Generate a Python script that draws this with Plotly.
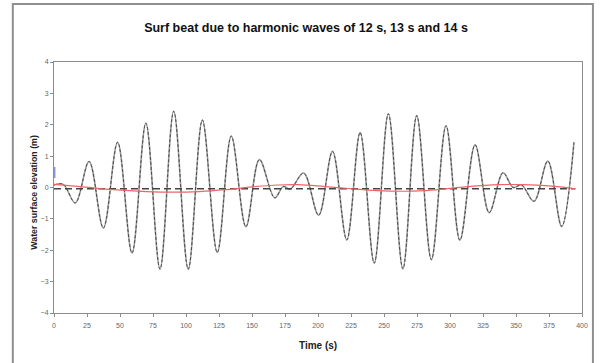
import plotly.graph_objects as go

# Extrema of the surface elevation (time s, elevation m)
wave_t = [0, 7, 16.1, 26.6, 37.4, 48.2, 59.1, 69.6, 80.3, 90.7, 101.7, 112.4, 123.7,
          134.3, 145.4, 155.6, 167.2, 173.7, 179.0, 189.1, 200.5, 211.0, 221.8, 231.9,
          242.6, 253.3, 264.3, 274.8, 285.9, 297.0, 307.5, 319.0, 329.7, 340.2, 347.8,
          354.2, 363.6, 374.1, 384.6, 393.9]
wave_y = [0.08, 0.1, -0.49, 0.83, -1.29, 1.44, -2.09, 2.05, -2.6, 2.43, -2.6, 2.15, -2.07,
          1.64, -1.25, 0.89, -0.33, 0.03, -0.05, 0.46, -0.88, 1.15, -1.67, 1.75,
          -2.41, 2.35, -2.59, 2.29, -2.3, 1.97, -1.68, 1.36, -0.8, 0.47, 0.0,
          0.08, -0.44, 0.84, -1.24, 1.44]

# Slowly varying surf beat (red)
beat_t = [0, 20, 45, 70, 90, 110, 130, 150, 170, 185, 205, 225, 245, 265, 280, 295, 312, 337, 355, 375, 395]
beat_y = [0.1, 0.03, -0.07, -0.13, -0.15, -0.13, -0.07, 0.02, 0.08, 0.09, 0.03, -0.04, -0.1, -0.12,
          -0.1, -0.05, 0.02, 0.09, 0.09, 0.05, -0.04]

# Mean level (dashed)
mean_t = [0, 395]
mean_y = [-0.04, -0.04]

# Short blue mark at start
blue_t = [0.6, 0.6]
blue_y = [0.3, 0.65]

x_ticks = list(range(0, 401, 25))
y_ticks = list(range(-4, 5, 1))

FONT = "Liberation Sans, Arial"

fig = go.Figure()
fig.add_trace(go.Scatter(x=wave_t, y=wave_y, mode="lines",
                         line=dict(color="#a0a0a0", width=1.6, shape="spline", smoothing=1.0),
                         hoverinfo="skip", showlegend=False))
fig.add_trace(go.Scatter(x=wave_t, y=wave_y, mode="lines",
                         line=dict(color="#4a4a4a", width=1, shape="spline", smoothing=1.0, dash="3px,2px"),
                         showlegend=False))
fig.add_trace(go.Scatter(x=mean_t, y=mean_y, mode="lines",
                         line=dict(color="#444444", width=1.5, dash="7px,4px"), showlegend=False))
fig.add_trace(go.Scatter(x=beat_t, y=beat_y, mode="lines",
                         line=dict(color="#f06468", width=1.2, shape="spline"), showlegend=False))
fig.add_trace(go.Scatter(x=blue_t, y=blue_y, mode="lines",
                         line=dict(color="#7080d8", width=1.2), showlegend=False))

axis_common = dict(showgrid=False, zeroline=False, showline=True, linecolor="#8c8c8c",
                   linewidth=1, mirror=True, ticks="outside", ticklen=3, tickcolor="#8c8c8c",
                   tickfont=dict(family=FONT, size=7, color="#666666"))

fig.update_layout(
    width=600, height=363,
    margin=dict(l=53.5, r=14, t=62, b=50),
    paper_bgcolor="white", plot_bgcolor="white",
    xaxis=dict(range=[0, 400], tickvals=x_ticks, ticklabelstandoff=3, **axis_common),
    yaxis=dict(range=[-4, 4], tickvals=y_ticks, **axis_common),
    title=dict(text="<b>Surf beat due to harmonic waves of 12 s, 13 s and 14 s</b>",
               x=306 / 600, xanchor="center", y=1 - 28 / 363, yanchor="middle",
               font=dict(family=FONT, size=12.5, color="#111111")),
    annotations=[
        dict(text="<b>Time (s)</b>", xref="paper", yref="paper", x=0.5, y=-0.1275,
             xanchor="center", yanchor="middle", showarrow=False,
             font=dict(family=FONT, size=10, color="#222222")),
        dict(text="<b>Water surface elevation (m)</b>", xref="paper", yref="paper",
             x=-0.0385, y=0.482, xanchor="center", yanchor="middle", textangle=-90,
             showarrow=False, font=dict(family=FONT, size=8.8, color="#222222")),
    ],
    shapes=[dict(type="rect", xref="paper", yref="paper", x0=-0.078, x1=1.0207,
                 y0=-0.21, y1=1.231, line=dict(color="#8f8f8f", width=2), layer="below")],
)

fig.write_html("out.html")
